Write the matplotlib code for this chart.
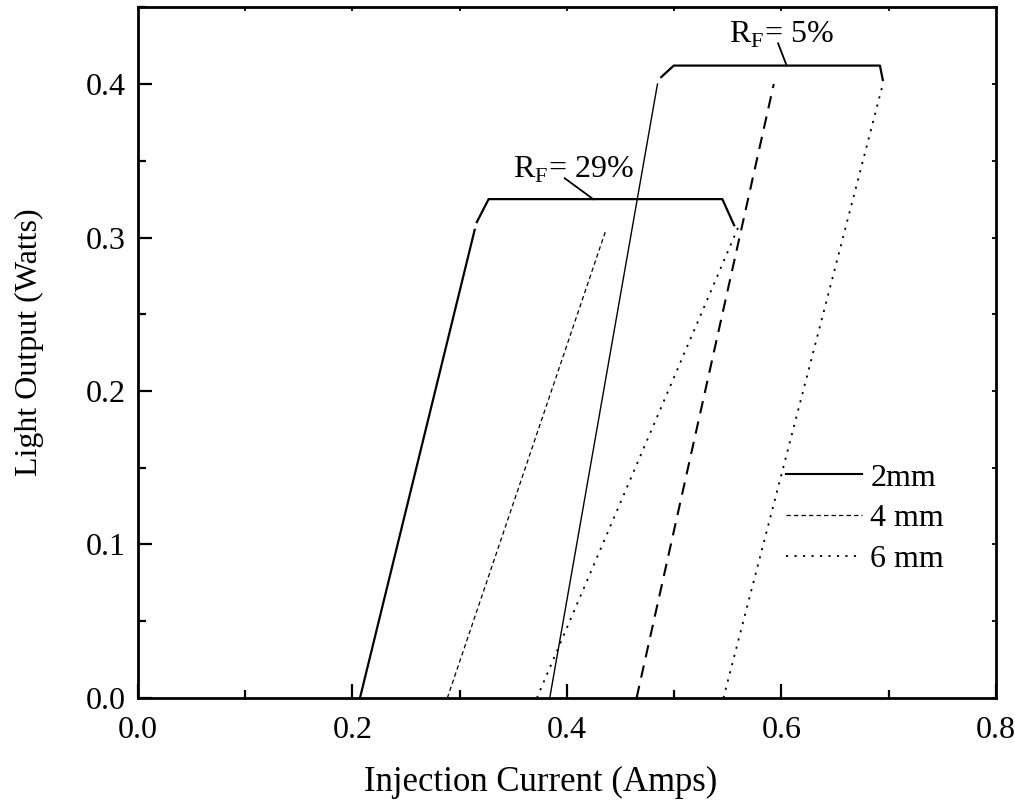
import matplotlib
matplotlib.use("Agg")
import matplotlib.pyplot as plt
from matplotlib.ticker import MultipleLocator

plt.rcParams['font.family'] = ['Liberation Serif', 'DejaVu Serif']
plt.rcParams['mathtext.fontset'] = 'custom'
plt.rcParams['mathtext.rm'] = 'Liberation Serif'

# light output vs injection current, two front-facet reflectivities
labels = ['2mm', '4 mm', '6 mm']

# R_F = 29 %
rf29_i_start = [0.207, 0.2885, 0.372]
rf29_i_end = [0.314, 0.436, 0.560]
rf29_p_end = [0.305, 0.304, 0.307]

# R_F = 5 %
rf5_i_start = [0.384, 0.465, 0.546]
rf5_i_end = [0.4845, 0.593, 0.694]
rf5_p_end = [0.400, 0.400, 0.398]

# brace lines grouping each set
brace29_x = [0.316, 0.327, 0.545, 0.556]
brace29_y = [0.310, 0.325, 0.325, 0.308]
brace5_x = [0.488, 0.4997, 0.692, 0.6947]
brace5_y = [0.4045, 0.412, 0.412, 0.4026]
pointer29_x = [0.398, 0.4247]
pointer29_y = [0.3386, 0.3249]
pointer5_x = [0.597, 0.605]
pointer5_y = [0.4265, 0.4120]

styles29 = [dict(ls='-', lw=1.6), dict(ls=(0, (3.5, 2.5)), lw=0.9), dict(ls=(0, (1.2, 3.5)), lw=1.3)]
styles5 = [dict(ls='-', lw=1.0), dict(ls=(0, (6, 4)), lw=1.5), dict(ls=(0, (1.2, 3.5)), lw=1.3)]
legend_styles = [dict(ls='-', lw=1.5), dict(ls=(0, (3.5, 2.5)), lw=0.9), dict(ls=(0, (1.2, 3.5)), lw=1.3)]

fig = plt.figure(figsize=(10.15, 8.06), dpi=100)
ax = fig.add_axes([0.136, 0.134, 0.845, 0.857])

for k in range(3):
    ax.plot([rf29_i_start[k], rf29_i_end[k]], [0.0, rf29_p_end[k]], color='black', **styles29[k])
    ax.plot([rf5_i_start[k], rf5_i_end[k]], [0.0, rf5_p_end[k]], color='black', **styles5[k])

ax.plot(brace29_x, brace29_y, color='black', lw=1.6)
ax.plot(brace5_x, brace5_y, color='black', lw=1.6)
ax.plot(pointer29_x, pointer29_y, color='black', lw=1.3)
ax.plot(pointer5_x, pointer5_y, color='black', lw=1.3)

ax.text(0.406, 0.3387, r'R$_{\mathregular{F}}$= 29%', fontsize=23, ha='center', va='baseline')
ax.text(0.600, 0.4267, r'R$_{\mathregular{F}}$= 5%', fontsize=23, ha='center', va='baseline')

handles = [ax.plot([], [], color='black', **s)[0] for s in legend_styles]
ax.legend(handles, labels, loc='upper left', bbox_to_anchor=(0.755, 0.340), frameon=False,
          fontsize=23, handlelength=2.4, handletextpad=0.25, labelspacing=0.36,
          borderpad=0.0, borderaxespad=0.0)

ax.set_xlim(0, 0.8)
ax.set_ylim(0, 0.45)
ax.xaxis.set_major_locator(MultipleLocator(0.2))
ax.xaxis.set_minor_locator(MultipleLocator(0.1))
ax.yaxis.set_major_locator(MultipleLocator(0.1))
ax.yaxis.set_minor_locator(MultipleLocator(0.05))
ax.tick_params(which='major', direction='in', length=10, width=1.6, labelsize=23, pad=9)
ax.tick_params(axis='x', which='major', pad=13)
ax.tick_params(which='minor', direction='in', length=5.5, width=1.6)

# small ticks on top and right
top = ax.secondary_xaxis('top')
top.xaxis.set_major_locator(MultipleLocator(0.1))
top.tick_params(direction='in', length=3, width=1.3, labeltop=False)
right = ax.secondary_yaxis('right')
right.yaxis.set_major_locator(MultipleLocator(0.05))
right.tick_params(direction='in', length=3, width=1.3, labelright=False)
for s in top.spines.values():
    s.set_visible(False)
for s in right.spines.values():
    s.set_visible(False)

for s in ax.spines.values():
    s.set_linewidth(2.0)

ax.set_xlabel('Injection Current (Amps)', fontsize=25)
ax.set_ylabel('Light Output (Watts)', fontsize=23)
ax.xaxis.set_label_coords(0.469, -0.099)
ax.yaxis.set_label_coords(-0.110, 0.515)

fig.savefig('out.png', dpi=100)
